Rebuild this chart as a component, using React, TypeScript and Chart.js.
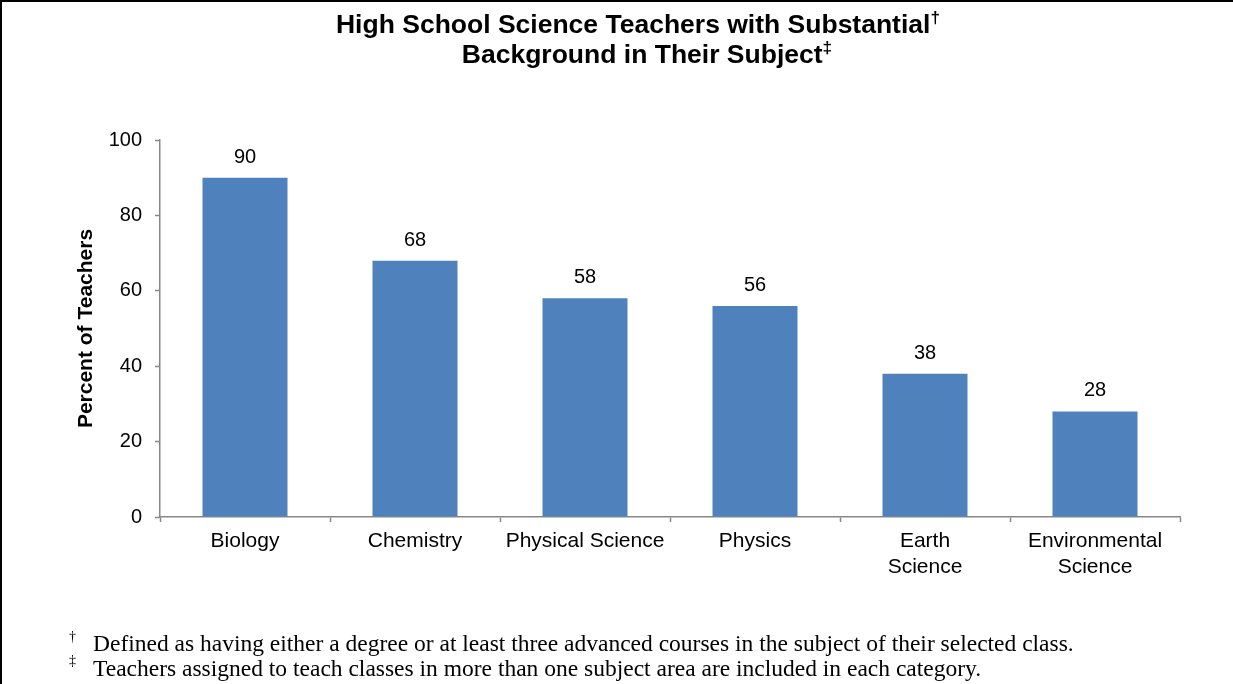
import React, { useEffect, useRef } from "react";
import { Chart, registerables } from "chart.js";

Chart.register(...registerables);

const categories: (string | string[])[] = [
  "Biology",
  "Chemistry",
  "Physical Science",
  "Physics",
  ["Earth", "Science"],
  ["Environmental", "Science"],
];
const percentValues: number[] = [90, 68, 58, 56, 38, 28];
const yMin = 0;
const yMax = 100;
const yStep = 20;

const titleLine1 = "High School Science Teachers with Substantial";
const titleLine2 = "Background in Their Subject";
const yAxisTitle = "Percent of Teachers";
const footnote1 = "Defined as having either a degree or at least three advanced courses in the subject of their selected class.";
const footnote2 = "Teachers assigned to teach classes in more than one subject area are included in each category.";

const SANS = '"Liberation Sans", Arial, sans-serif';
const SERIF = '"Liberation Serif", "Times New Roman", serif';
const AXIS_GRAY = "#878787";

const valueLabels = {
  id: "valueLabels",
  afterDatasetsDraw(chart: any) {
    const ctx = chart.ctx;
    const meta = chart.getDatasetMeta(0);
    const data = chart.data.datasets[0].data as number[];
    ctx.save();
    ctx.font = `20px ${SANS}`;
    ctx.fillStyle = "#000";
    ctx.textAlign = "center";
    ctx.textBaseline = "alphabetic";
    meta.data.forEach((el: any, i: number) => {
      ctx.fillText(String(data[i]), el.x, el.y - 15);
    });
    ctx.restore();
  },
};

export default function App() {
  const canvasRef = useRef<HTMLCanvasElement | null>(null);

  useEffect(() => {
    if (!canvasRef.current) return;
    const chart = new Chart(canvasRef.current, {
      type: "bar",
      data: {
        labels: categories as any,
        datasets: [
          {
            data: percentValues,
            backgroundColor: "#4F81BD",
            borderWidth: 0,
            barPercentage: 0.5,
            categoryPercentage: 1,
          },
        ],
      },
      options: {
        responsive: false,
        animation: false,
        layout: { padding: { left: 0, top: 140, right: 53, bottom: 0 } },
        plugins: {
          legend: { display: false },
          tooltip: { enabled: false },
          title: { display: false },
        },
        scales: {
          x: {
            afterFit: (scale: any) => {
              scale.height = 167;
            },
            grid: {
              offset: true,
              drawOnChartArea: false,
              drawTicks: true,
              tickLength: 5,
              tickColor: AXIS_GRAY,
              tickWidth: 1.5,
            },
            border: { display: true, color: AXIS_GRAY, width: 1.5 },
            ticks: {
              color: "#000",
              font: { family: SANS, size: 21, lineHeight: 1.2 },
              padding: 7,
              maxRotation: 0,
              autoSkip: false,
            },
          },
          y: {
            min: yMin,
            max: yMax,
            afterFit: (scale: any) => {
              scale.width = 160;
            },
            grid: {
              drawOnChartArea: false,
              drawTicks: true,
              tickLength: 5,
              tickColor: AXIS_GRAY,
              tickWidth: 1.5,
            },
            border: { display: true, color: AXIS_GRAY, width: 1.5 },
            ticks: {
              stepSize: yStep,
              color: "#000",
              font: { family: SANS, size: 20 },
              padding: 13,
            },
            title: {
              display: true,
              text: yAxisTitle,
              color: "#000",
              font: { family: SANS, size: 21, weight: "bold" },
              padding: { top: 74, bottom: 0 },
            },
          },
        },
      },
      plugins: [valueLabels],
    });
    return () => chart.destroy();
  }, []);

  const supStyle: React.CSSProperties = {
    fontSize: "0.65em",
    verticalAlign: "0.6em",
    lineHeight: 0,
  };

  const titleStyle: React.CSSProperties = {
    position: "absolute",
    width: 1000,
    textAlign: "center",
    fontFamily: SANS,
    fontWeight: "bold",
    fontSize: 26.5,
    lineHeight: "30px",
    color: "#000",
    whiteSpace: "nowrap",
  };

  const footTextStyle: React.CSSProperties = {
    position: "absolute",
    left: 93,
    fontFamily: SERIF,
    fontSize: 23.5,
    lineHeight: "25px",
    color: "#000",
    whiteSpace: "nowrap",
  };

  const footMarkStyle: React.CSSProperties = {
    position: "absolute",
    left: 69,
    fontFamily: SERIF,
    fontSize: 14,
    lineHeight: "14px",
    color: "#000",
  };

  return (
    <div
      style={{
        position: "absolute",
        left: 0,
        top: 0,
        width: 1233,
        height: 684,
        background: "#fff",
        overflow: "hidden",
      }}
    >
      <canvas
        ref={canvasRef}
        width={1233}
        height={684}
        style={{ position: "absolute", left: 0, top: 0, width: 1233, height: 684 }}
      />
      <div style={{ ...titleStyle, left: 138, top: 9 }}>
        {titleLine1}
        <span style={supStyle}>†</span>
      </div>
      <div style={{ ...titleStyle, left: 147, top: 39 }}>
        {titleLine2}
        <span style={supStyle}>‡</span>
      </div>
      <div style={{ ...footMarkStyle, top: 630 }}>†</div>
      <div style={{ ...footTextStyle, top: 631 }}>{footnote1}</div>
      <div style={{ ...footMarkStyle, top: 654 }}>‡</div>
      <div style={{ ...footTextStyle, top: 656 }}>{footnote2}</div>
      <div style={{ position: "absolute", left: 0, top: 0, width: 1233, height: 2, background: "#000" }} />
      <div style={{ position: "absolute", left: 0, top: 0, width: 2, height: 684, background: "#000" }} />
    </div>
  );
}
